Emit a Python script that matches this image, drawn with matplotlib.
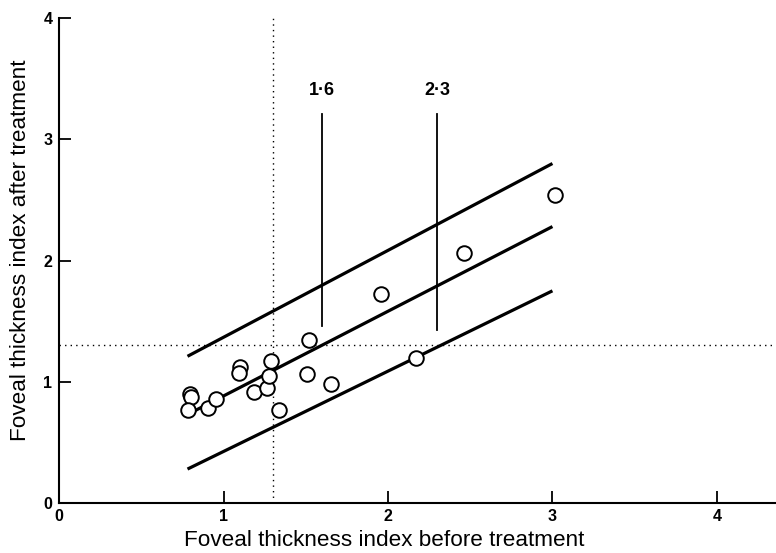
import numpy as np
import matplotlib
matplotlib.use("Agg")
import matplotlib.pyplot as plt

plt.rcParams['font.family'] = ['Liberation Sans', 'DejaVu Sans']

# ── Data ────────────────────────────────────────────────────
before = [0.795, 0.80, 0.785, 0.907, 0.952, 1.10, 1.096, 1.185, 1.262,
          1.278, 1.287, 1.339, 1.506, 1.522, 1.652, 2.171, 1.958, 2.459, 3.017]
after = [0.899, 0.874, 0.767, 0.781, 0.855, 1.12, 1.074, 0.918, 0.946,
         1.047, 1.171, 0.767, 1.063, 1.344, 0.979, 1.198, 1.723, 2.059, 2.539]

line_x = [0.78, 3.0]
upper_y = [1.21, 2.80]
mid_y = [0.73, 2.28]
lower_y = [0.28, 1.75]

cutoff = 1.3                     # dotted reference lines
marks = [1.6, 2.3]               # labelled vertical markers
mark_lo = [1.46, 1.43]
mark_hi = 3.21
mark_labels = ['1\u00b76', '2\u00b73']

xticks = [0, 1, 2, 3, 4]
yticks = [0, 1, 2, 3, 4]

# ── Figure ──────────────────────────────────────────────────
fig = plt.figure(figsize=(7.76, 5.53), dpi=100)
ax = fig.add_axes([0.0764, 0.0904, 0.9236, 0.877])
ax.set_xlim(0, 4.36)
ax.set_ylim(0, 4.0)

ax.spines['top'].set_visible(False)
ax.spines['right'].set_visible(False)
for s in ('left', 'bottom'):
    ax.spines[s].set_linewidth(1.5)
ax.spines['left'].set_bounds(0, 4)

ax.set_xticks(xticks)
ax.set_yticks(yticks)
ax.tick_params(axis='both', direction='in', length=8.5, width=1.3,
               labelsize=11.5)
ax.tick_params(axis='x', pad=4)
ax.tick_params(axis='y', pad=5)
for lab in ax.get_xticklabels() + ax.get_yticklabels():
    lab.set_fontweight('bold')

# dotted cut-off lines
ax.plot([cutoff, cutoff], [0, 4], color='black', lw=1.0,
        linestyle=(0, (1, 3)), clip_on=False)
ax.plot([0, 4.36], [cutoff, cutoff], color='black', lw=1.0,
        linestyle=(0, (1, 3)), clip_on=False)

# prediction band lines
for yy in (upper_y, mid_y, lower_y):
    ax.plot(line_x, yy, color='black', lw=2.3, solid_capstyle='butt')

# labelled markers
for xm, lo, lab in zip(marks, mark_lo, mark_labels):
    ax.plot([xm, xm], [lo, mark_hi], color='black', lw=1.3)
    ax.text(xm, mark_hi + 0.12, lab, ha='center', va='bottom',
            fontsize=13, fontweight='bold')

ax.plot(before, after, 'o', markersize=10.5, markerfacecolor='white',
        markeredgecolor='black', markeredgewidth=1.4, zorder=5)

fig.text(0.495, 0.022, 'Foveal thickness index before treatment',
         ha='center', va='center', fontsize=16.2)
fig.text(0.027, 0.548, 'Foveal thickness index after treatment',
         ha='center', va='center', rotation=90, fontsize=16.2)

fig.savefig('out.png', dpi=100, facecolor='white')
